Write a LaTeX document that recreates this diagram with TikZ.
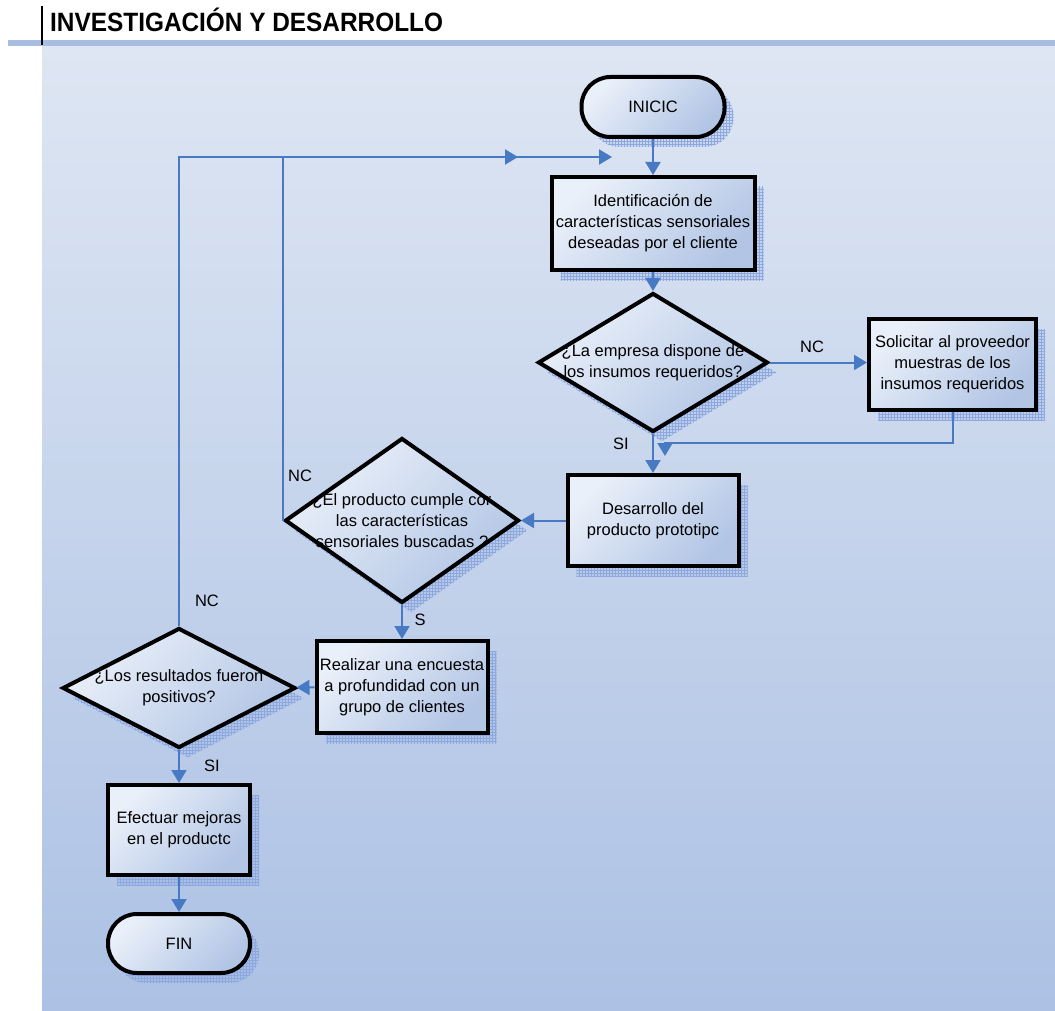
\documentclass[tikz,border=0pt]{standalone}
\usepackage{fontspec}
\setmainfont{Liberation Sans}
\usetikzlibrary{shapes.geometric,shadows,patterns,arrows.meta}

\definecolor{flow}{RGB}{72,122,196}
\definecolor{paneltop}{RGB}{222,230,243}
\definecolor{panelbot}{RGB}{172,193,228}
\definecolor{bar}{RGB}{167,190,224}
\definecolor{boxlight}{RGB}{234,240,249}
\definecolor{boxdark}{RGB}{178,197,229}
\definecolor{shadowblue}{RGB}{140,168,222}

\newcommand{\flowtext}{\fontsize{16.5pt}{21pt}\selectfont}

\tikzset{
  nodebase/.style={draw=black, line width=4pt, top color=boxlight, bottom color=boxdark,
    shading angle=45, inner sep=0pt, align=center, font=\flowtext, text=black,
    general shadow={shadow xshift=9pt, shadow yshift=-10pt, fill=shadowblue, fill opacity=0.2},
    general shadow={shadow xshift=9pt, shadow yshift=-10pt, pattern=grid, pattern color=shadowblue}},
  procbox/.style={nodebase, rectangle},
  termbox/.style={nodebase, rectangle, rounded corners=29pt},
  decbox/.style={nodebase, diamond, aspect=1},
  dectext/.style={align=center, font=\flowtext, text=black, inner sep=0pt},
  flowlabel/.style={font=\flowtext, text=black, inner sep=0pt},
  conn/.style={draw=flow, line width=2pt, -{Triangle[length=13pt,width=15pt]}}
}

\begin{document}
\begin{tikzpicture}[x=1pt,y=-1pt]
\useasboundingbox (0,0) rectangle (1055,1011);
\fill[white] (0,0) rectangle (1055,1011);

% header and panel
\shade[top color=paneltop, bottom color=panelbot] (42,46) rectangle (1055,1011);
\fill[bar] (8,40) rectangle (1055,46);
\draw[line width=1.3pt] (42,6) -- (42,45);
\node[anchor=base west, inner sep=0pt, font=\bfseries\fontsize{26.5pt}{30pt}\selectfont] (title) at (50,32)
  {\scalebox{0.92}[1]{INVESTIGACIÓN Y DESARROLLO}};

% nodes
\node[termbox, minimum width=143pt, minimum height=60pt] (inicio) at (653,107) {INICIC};
\node[procbox, minimum width=203pt, minimum height=93pt] (ident) at (653,223.5)
  {Identificación de\\características sensoriales\\deseadas por el cliente};
\node[decbox, minimum width=230pt, minimum height=139pt] (d1) at (653,362.5) {};
\node[dectext] (t1) at (d1) {¿La empresa dispone de\\los insumos requeridos?};
\node[procbox, minimum width=167pt, minimum height=91pt] (sol) at (952.5,364.5)
  {Solicitar al proveedor\\muestras de los\\insumos requeridos};
\node[procbox, minimum width=171pt, minimum height=91pt] (des) at (653,520.5)
  {Desarrollo del\\producto prototipc};
\node[decbox, minimum width=234pt, minimum height=165pt] (d2) at (402,520.5) {};
\node[dectext] (t2) at (d2) {¿El producto cumple cor\\las características\\sensoriales buscadas ?};
\node[procbox, minimum width=171pt, minimum height=92pt] (enc) at (402,687)
  {Realizar una encuesta\\a profundidad con un\\grupo de clientes};
\node[decbox, minimum width=233pt, minimum height=120pt] (d3) at (179,688) {};
\node[dectext] (t3) at (d3) {¿Los resultados fueron\\positivos?};
\node[procbox, minimum width=142pt, minimum height=90pt] (mej) at (179,830)
  {Efectuar mejoras\\en el productc};
\node[termbox, minimum width=142pt, minimum height=59pt] (fin) at (179,943.5) {FIN};

% loose ends of connectors
\coordinate (loopA) at (518,157);
\coordinate (loopB) at (612,157);
\coordinate (backturn) at (665,443);
\coordinate (backend) at (665,456);

% connectors
\draw[conn] (inicio) -- (ident);
\draw[conn] (ident) -- (d1);
\draw[conn] (d1.east) -- (sol.west |- d1.east);
\draw[conn] (d1) -- (des);
\draw[conn] (sol.south) |- (backturn) -- (backend);
\draw[conn] (des) -- (d2);
\draw[conn] (d2) -- (enc);
\draw[conn] (d2.west) |- (loopA);
\draw[conn] (enc) -- (d3);
\draw[conn] (d3.north) |- (loopB);
\draw[conn] (d3) -- (mej);
\draw[conn] (mej) -- (fin);

% branch labels
\node[flowlabel] (lno1) at (812,347) {NC};
\node[flowlabel] (lsi1) at (621,444) {SI};
\node[flowlabel] (lno2) at (300,476) {NC};
\node[flowlabel] (lsi2) at (420,620) {S};
\node[flowlabel] (lno3) at (207,601) {NC};
\node[flowlabel] (lsi3) at (212,766) {SI};
\end{tikzpicture}
\end{document}
